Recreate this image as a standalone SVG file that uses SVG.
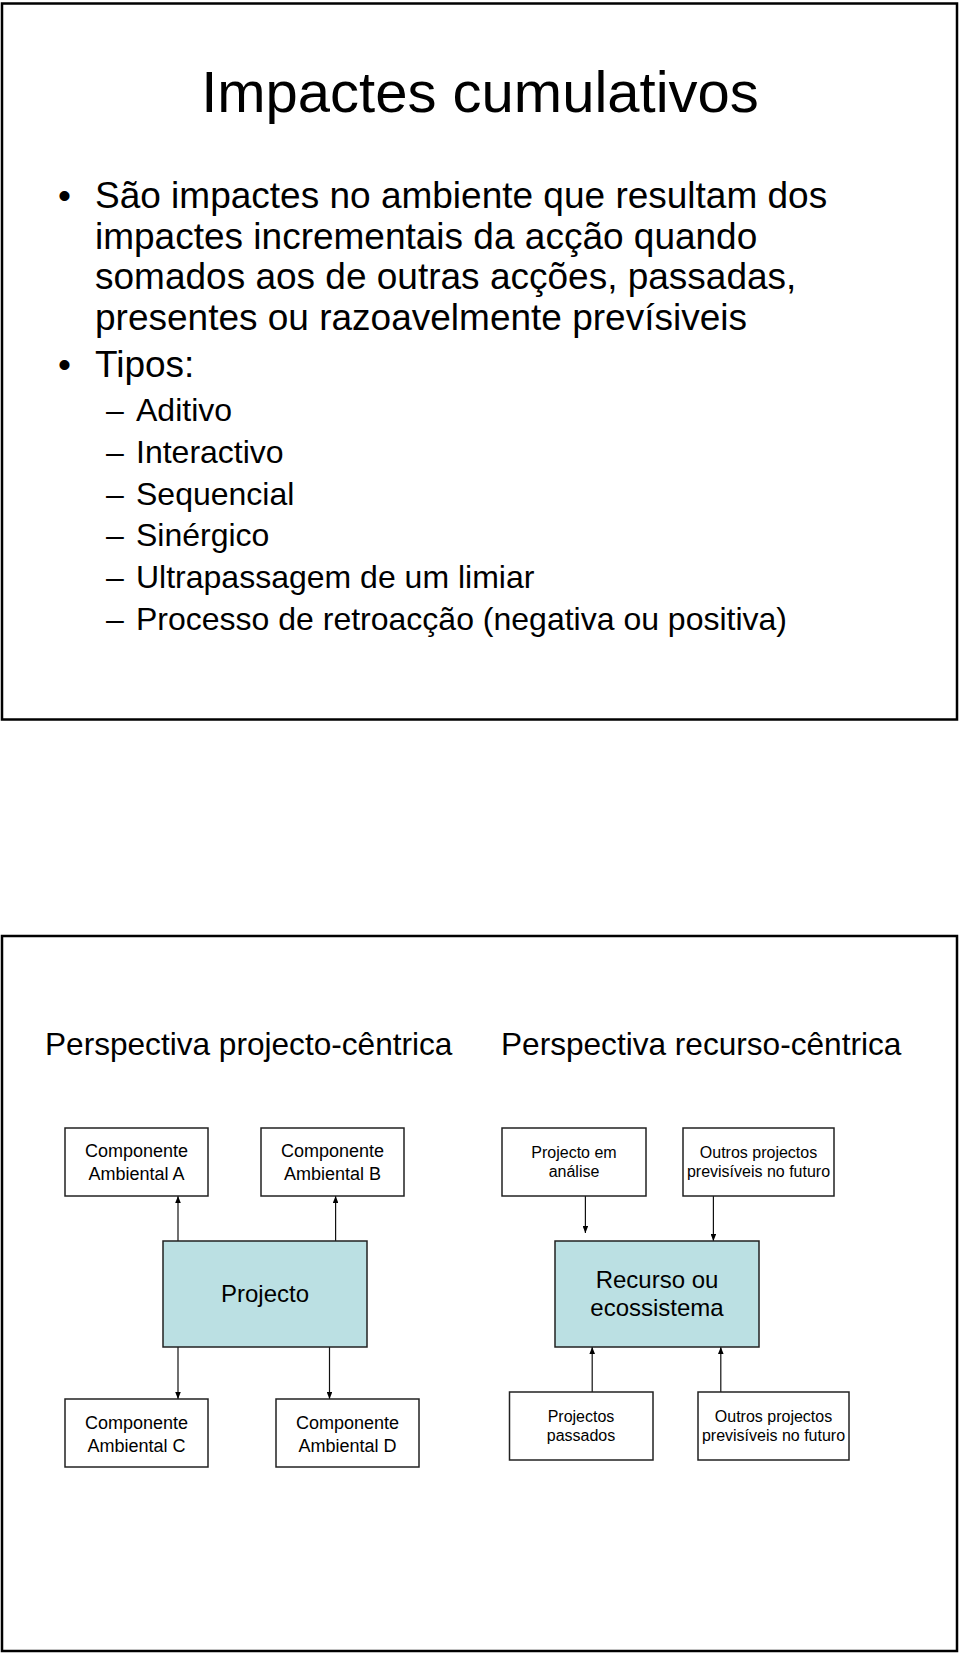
<svg xmlns="http://www.w3.org/2000/svg" width="960" height="1654" viewBox="0 0 960 1654">
  <defs>
    <style>
      .f { font-family: "Liberation Sans", Arial, sans-serif; fill: #000; }
      .slide { fill: #fff; stroke: #000; stroke-width: 2.5; }
      .box { fill: #fff; stroke: #222; stroke-width: 1.5; }
      .core { fill: #bbe0e3; stroke: #222; stroke-width: 1.5; }
      .conn { stroke: #111; stroke-width: 1.2; fill: none; marker-end: url(#ah); }
      .t18 { font-size: 18px; text-anchor: middle; }
      .t16 { font-size: 16px; text-anchor: middle; }
      .t24 { font-size: 24px; text-anchor: middle; }
      .main { font-size: 37px; }
      .sub { font-size: 32px; }
      .hdr { font-size: 31.6px; }
    </style>
    <marker id="ah" viewBox="0 0 10 8" refX="10" refY="4" markerWidth="7" markerHeight="5.6" markerUnits="userSpaceOnUse" orient="auto">
      <path d="M0,0 L10,4 L0,8 z" fill="#000"/>
    </marker>
  </defs>

  <rect width="960" height="1654" fill="#fff"/>

  <!-- Slide 1 -->
  <g id="slide1">
    <rect class="slide" x="2" y="3.5" width="955" height="716"/>
    <text class="f" x="480" y="112" font-size="58" text-anchor="middle">Impactes cumulativos</text>
    <text class="f main" x="58" y="208">•</text>
    <text class="f main" x="95" y="208">São impactes no ambiente que resultam dos</text>
    <text class="f main" x="95" y="249">impactes incrementais da acção quando</text>
    <text class="f main" x="95" y="289">somados aos de outras acções, passadas,</text>
    <text class="f main" x="95" y="330">presentes ou razoavelmente prevísiveis</text>
    <text class="f main" x="58" y="377">•</text>
    <text class="f main" x="95" y="377">Tipos:</text>
    <text class="f sub" x="106" y="421">–</text>
    <text class="f sub" x="136" y="421">Aditivo</text>
    <text class="f sub" x="106" y="463">–</text>
    <text class="f sub" x="136" y="463">Interactivo</text>
    <text class="f sub" x="106" y="505">–</text>
    <text class="f sub" x="136" y="505">Sequencial</text>
    <text class="f sub" x="106" y="546">–</text>
    <text class="f sub" x="136" y="546">Sinérgico</text>
    <text class="f sub" x="106" y="588">–</text>
    <text class="f sub" x="136" y="588">Ultrapassagem de um limiar</text>
    <text class="f sub" x="106" y="630">–</text>
    <text class="f sub" x="136" y="630">Processo de retroacção (negativa ou positiva)</text>
  </g>

  <!-- Slide 2 -->
  <g id="slide2">
    <rect class="slide" x="2" y="936" width="955" height="715"/>
    <text class="f hdr" x="45" y="1055">Perspectiva projecto-cêntrica</text>
    <text class="f hdr" x="501" y="1055">Perspectiva recurso-cêntrica</text>
  </g>

  <g id="connectors">
    <line class="conn" x1="178" y1="1241" x2="178" y2="1196"/>
    <line class="conn" x1="335.6" y1="1241" x2="335.6" y2="1196"/>
    <line class="conn" x1="178" y1="1347" x2="178" y2="1399"/>
    <line class="conn" x1="329.5" y1="1347" x2="329.5" y2="1399"/>
    <line class="conn" x1="585.4" y1="1196" x2="585.4" y2="1233"/>
    <line class="conn" x1="713.4" y1="1196" x2="713.4" y2="1241"/>
    <line class="conn" x1="592.2" y1="1392" x2="592.2" y2="1347"/>
    <line class="conn" x1="720.8" y1="1392" x2="720.8" y2="1347"/>
  </g>

  <g id="compA">
    <rect class="box" x="65" y="1128" width="143" height="68"/>
    <text class="f t18" x="136.5" y="1157">Componente</text>
    <text class="f t18" x="136.5" y="1180">Ambiental A</text>
  </g>
  <g id="compB">
    <rect class="box" x="261" y="1128" width="143" height="68"/>
    <text class="f t18" x="332.5" y="1157">Componente</text>
    <text class="f t18" x="332.5" y="1180">Ambiental B</text>
  </g>
  <g id="projecto">
    <rect class="core" x="163" y="1241" width="204" height="106"/>
    <text class="f t24" x="265" y="1302">Projecto</text>
  </g>
  <g id="compC">
    <rect class="box" x="65" y="1399" width="143" height="68"/>
    <text class="f t18" x="136.5" y="1429">Componente</text>
    <text class="f t18" x="136.5" y="1452">Ambiental C</text>
  </g>
  <g id="compD">
    <rect class="box" x="276" y="1399" width="143" height="68"/>
    <text class="f t18" x="347.5" y="1429">Componente</text>
    <text class="f t18" x="347.5" y="1452">Ambiental D</text>
  </g>

  <g id="projAnalise">
    <rect class="box" x="502" y="1128" width="144" height="68"/>
    <text class="f t16" x="574" y="1158">Projecto em</text>
    <text class="f t16" x="574" y="1177">análise</text>
  </g>
  <g id="outrosTop">
    <rect class="box" x="683" y="1128" width="151" height="68"/>
    <text class="f t16" x="758.5" y="1158">Outros projectos</text>
    <text class="f t16" x="758.5" y="1177">previsíveis no futuro</text>
  </g>
  <g id="recurso">
    <rect class="core" x="555" y="1241" width="204" height="106"/>
    <text class="f t24" x="657" y="1288">Recurso ou</text>
    <text class="f t24" x="657" y="1316">ecossistema</text>
  </g>
  <g id="projPassados">
    <rect class="box" x="509.5" y="1392" width="143.5" height="68"/>
    <text class="f t16" x="581" y="1422">Projectos</text>
    <text class="f t16" x="581" y="1441">passados</text>
  </g>
  <g id="outrosBottom">
    <rect class="box" x="698" y="1392" width="151" height="68"/>
    <text class="f t16" x="773.5" y="1422">Outros projectos</text>
    <text class="f t16" x="773.5" y="1441">previsíveis no futuro</text>
  </g>
</svg>
